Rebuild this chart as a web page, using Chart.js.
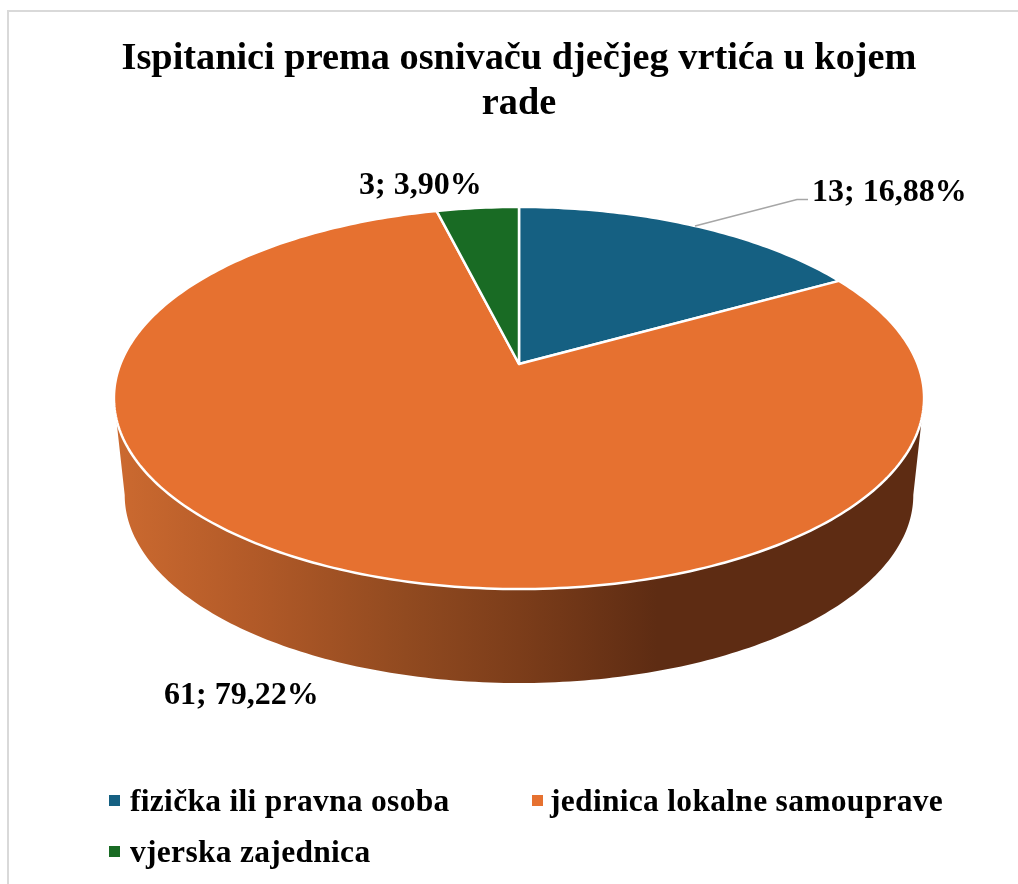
<!DOCTYPE html>
<html>
<head>
<meta charset="utf-8">
<title>Ispitanici prema osnivaču</title>
<script src="https://cdn.jsdelivr.net/npm/chart.js@4"></script>
<style>
    html, body { margin: 0; padding: 0; background: #fff; }
    #frame { position: absolute; left: 7px; top: 10px; width: 1011px; height: 874px; border-top: 2px solid #d9d9d9; border-left: 2px solid #d9d9d9; box-sizing: border-box; }
    #pie { position: absolute; left: 0; top: 0; }
</style>
</head>
<body>
<div id="frame"></div>
<canvas id="pie" width="1018" height="884"></canvas>
<script>
const categories = ['fizička ili pravna osoba', 'jedinica lokalne samouprave', 'vjerska zajednica'];
const counts = [13, 61, 3];
const sliceColors = ['#156082', '#E67130', '#196B24'];
const titleLines = ['Ispitanici prema osnivaču dječjeg vrtića u kojem', 'rade'];

const FONT = '"Liberation Serif", "Times New Roman", serif';
const total = counts.reduce((a, b) => a + b, 0);
const labelText = counts.map(v => `${v}; ${(v / total * 100).toFixed(2).replace('.', ',')}%`);

// perspective of the tilted disc, relative to the library's arc centre
const tilt = { a: 398.6, b: 185, m: 0.178 };
const base = { a: 388, b: 182, m: 0.178, dy: 97.6 };

const project = (arc, angle, p) => {
    const x = Math.cos(angle);
    const y = Math.sin(angle);
    const w = 1 - p.m * y;
    return { x: arc.x + p.a * x / w, y: arc.y + (p.dy || 0) + p.b * y / w };
};

const sideGradient = (ctx) => {
    const g = ctx.createLinearGradient(114, 0, 924, 0);
    g.addColorStop(0, '#CC6A30');
    g.addColorStop(0.17, '#B25A28');
    g.addColorStop(0.36, '#914A20');
    g.addColorStop(0.5, '#7C3D1A');
    g.addColorStop(0.67, '#5E2C13');
    g.addColorStop(1, '#5E2C13');
    return g;
};

const pie3d = {
    id: 'pie3d',
    beforeDatasetsDraw(chart) {
        const { ctx } = chart;
        const arcs = chart.getDatasetMeta(0).data;
        const c = arcs[0];
        ctx.save();

        // side wall: front half of the lower rim joined to the widest points of the top
        const widest = Math.asin(tilt.m);
        ctx.beginPath();
        let p = project(c, Math.PI - widest, tilt);
        ctx.moveTo(p.x, p.y);
        for (let i = 0; i <= 180; i++) {
            const t = Math.PI - widest - (Math.PI - 2 * widest) * i / 180;
            p = project(c, t, base);
            ctx.lineTo(p.x, p.y);
        }
        p = project(c, widest, tilt);
        ctx.lineTo(p.x, p.y);
        ctx.closePath();
        ctx.fillStyle = sideGradient(ctx);
        ctx.fill();

        // top face, slice by slice from the arc elements
        arcs.forEach((arc, i) => {
            const steps = Math.max(8, Math.ceil((arc.endAngle - arc.startAngle) * 60));
            ctx.beginPath();
            ctx.moveTo(arc.x, arc.y);
            for (let s = 0; s <= steps; s++) {
                const q = project(arc, arc.startAngle + (arc.endAngle - arc.startAngle) * s / steps, tilt);
                ctx.lineTo(q.x, q.y);
            }
            ctx.closePath();
            ctx.fillStyle = arc.options.backgroundColor;
            ctx.fill();
            ctx.lineJoin = 'round';
            ctx.lineWidth = 2.5;
            ctx.strokeStyle = '#fff';
            ctx.stroke();
        });
        ctx.restore();
        return false;
    },
    afterDraw(chart) {
        const { ctx } = chart;
        ctx.save();

        // leader line for the first label
        ctx.beginPath();
        ctx.moveTo(695, 226);
        ctx.lineTo(797, 199.5);
        ctx.lineTo(808, 199.5);
        ctx.lineWidth = 1.5;
        ctx.strokeStyle = '#A6A6A6';
        ctx.stroke();

        // data labels
        const labelPos = [[812, 201], [164, 704], [359, 194]];
        ctx.fillStyle = '#000';
        ctx.textAlign = 'left';
        ctx.textBaseline = 'alphabetic';
        ctx.font = `bold 32px ${FONT}`;
        labelText.forEach((t, i) => ctx.fillText(t, labelPos[i][0], labelPos[i][1]));

        // legend
        const legendPos = [[109, 130, 811], [532, 550, 811], [109, 130, 862]];
        ctx.font = `bold 31.5px ${FONT}`;
        ctx.letterSpacing = '0.3px';
        chart.data.labels.forEach((t, i) => {
            const [bx, tx, by] = legendPos[i];
            ctx.fillStyle = chart.data.datasets[0].backgroundColor[i];
            ctx.fillRect(bx, by - 16, 11, 11);
            ctx.fillStyle = '#000';
            ctx.fillText(t, tx, by);
        });
        ctx.restore();
    }
};

new Chart(document.getElementById('pie').getContext('2d'), {
    type: 'pie',
    data: {
        labels: categories,
        datasets: [{
            data: counts,
            backgroundColor: sliceColors,
            borderColor: '#fff',
            borderWidth: 2
        }]
    },
    options: {
        responsive: false,
        animation: false,
        layout: { padding: { left: 20, right: 0, top: 37, bottom: 291 } },
        plugins: {
            legend: { display: false },
            tooltip: { enabled: false },
            title: {
                display: true,
                text: titleLines,
                color: '#000',
                font: { family: FONT, size: 38.3, weight: 'bold', lineHeight: 1.175 },
                padding: { top: 0, bottom: 8 }
            }
        }
    },
    plugins: [pie3d]
});
</script>
</body>
</html>
